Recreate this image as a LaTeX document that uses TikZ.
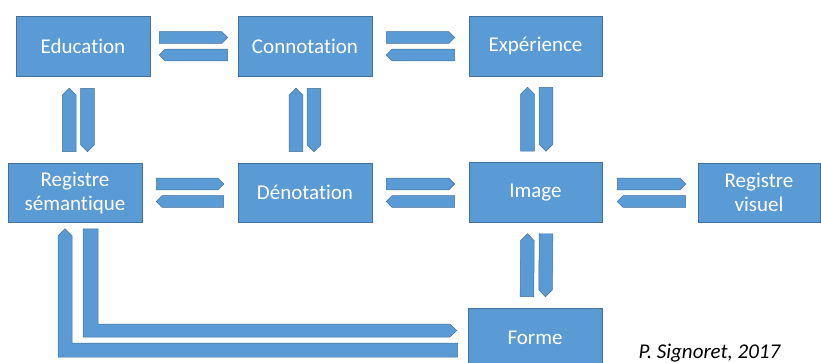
\documentclass[tikz,border=0pt]{standalone}
\usepackage{fontspec}
\setmainfont{Carlito}[Ligatures=NoCommon]
\usetikzlibrary{calc}
\definecolor{boxfill}{HTML}{5B9BD5}
\definecolor{boxline}{HTML}{41719C}
\tikzset{
  box/.style={draw=boxline, line width=0.6pt, fill=boxfill, text=white,
    minimum width=134pt, minimum height=60pt, inner sep=0pt, align=center,
    font=\fontsize{21}{24}\selectfont},
  barrow/.style={draw=boxline, line width=0.5pt, fill=boxfill},
}
\newcommand{\barr}[3]{%
  \path #1 coordinate (ba-s) #2 coordinate (ba-t);
  \path ($(ba-t)!#3!(ba-s)$) coordinate (ba-q);
  \filldraw[barrow] ($(ba-s)!#3!90:(ba-t)$) -- ($(ba-q)!#3!90:(ba-t)$) -- (ba-t)
    -- ($(ba-q)!#3!-90:(ba-t)$) -- ($(ba-s)!#3!-90:(ba-t)$) -- cycle;}
\begin{document}
\begin{tikzpicture}[x=1pt,y=-1pt]
\useasboundingbox (0,0) rectangle (821,363);
% boxes
\node[box] (edu) at (83,46) {Education};
\node[box] (con) at (305,46) {Connotation};
\node[box, minimum width=133pt] (exp) at (535.5,46) {Expérience};
\node[box, minimum height=59pt] (rs) at (75,192.5) {Registre\\sémantique};
\node[box, minimum height=59pt] (den) at (305,192.5) {Dénotation};
\node[box, minimum width=133pt] (img) at (535.5,192.5) {Image};
\node[box, minimum width=122pt, minimum height=59pt] (rv) at (759,192.5) {Registre\\visuel};
\node[box] (forme) at (535,338) {Forme};
\node[anchor=base west, font=\fontsize{21}{24}\selectfont\itshape] (sig) at (635,358) {P. Signoret, 2017};
% top row
\barr{($(edu.east)+(9,-8.5)$)}{($(con.west)+(-10,-8.5)$)}{5.8pt}
\barr{($(con.west)+(-10,9)$)}{($(edu.east)+(9,9)$)}{5.8pt}
\barr{($(con.east)+(14,-8.5)$)}{($(exp.west)+(-14,-8.5)$)}{5.8pt}
\barr{($(exp.west)+(-14,9)$)}{($(con.east)+(14,9)$)}{5.8pt}
% middle row
\barr{($(rs.east)+(14,-8.5)$)}{($(den.west)+(-14,-8.5)$)}{5.8pt}
\barr{($(den.west)+(-14,9)$)}{($(rs.east)+(14,9)$)}{5.8pt}
\barr{($(den.east)+(14,-8.5)$)}{($(img.west)+(-14,-8.5)$)}{5.8pt}
\barr{($(img.west)+(-14,9)$)}{($(den.east)+(14,9)$)}{5.8pt}
\barr{($(img.east)+(15,-8.5)$)}{($(rv.west)+(-12,-8.5)$)}{5.8pt}
\barr{($(rv.west)+(-12,9)$)}{($(img.east)+(15,9)$)}{5.8pt}
% verticals
\barr{($(rs.north)+(-5.8,-11)$)}{($(edu.south)+(-13.8,12)$)}{6.8pt}
\barr{($(edu.south)+(4.5,12)$)}{($(rs.north)+(12.5,-11)$)}{6.8pt}
\barr{($(den.north)+(-9,-11)$)}{($(con.south)+(-9,12)$)}{6.8pt}
\barr{($(con.south)+(9,12)$)}{($(den.north)+(9,-11)$)}{6.8pt}
\barr{($(img.north)+(-8,-11)$)}{($(exp.south)+(-8,11)$)}{6.8pt}
\barr{($(exp.south)+(10.5,11)$)}{($(img.north)+(10.5,-11)$)}{6.8pt}
\barr{($(forme.north)+(-8,-11)$)}{($(img.south)+(-8,11)$)}{6.8pt}
\barr{($(img.south)+(10.5,11)$)}{($(forme.north)+(10.5,-11)$)}{6.8pt}
% L-shaped arrows
\coordinate (lc) at (rs.south |- forme.west);
\filldraw[barrow] ($(rs.south)+(8,6.5)$) -- ($(rs.south)+(23,6.5)$) -- ($(lc)+(23,-14)$)
  -- ($(forme.west)+(-18,-14)$) -- ($(forme.west)+(-11,-7.5)$) -- ($(forme.west)+(-18,-1)$)
  -- ($(lc)+(8,-1)$) -- cycle;
\filldraw[barrow] ($(rs.south)+(-10,6.5)$) -- ($(rs.south)+(-3,13.5)$) -- ($(lc)+(-3,5)$)
  -- ($(forme.west)+(-10,5)$) -- ($(forme.west)+(-10,19)$) -- ($(lc)+(-17,19)$)
  -- ($(rs.south)+(-17,13.5)$) -- cycle;
\end{tikzpicture}
\end{document}
